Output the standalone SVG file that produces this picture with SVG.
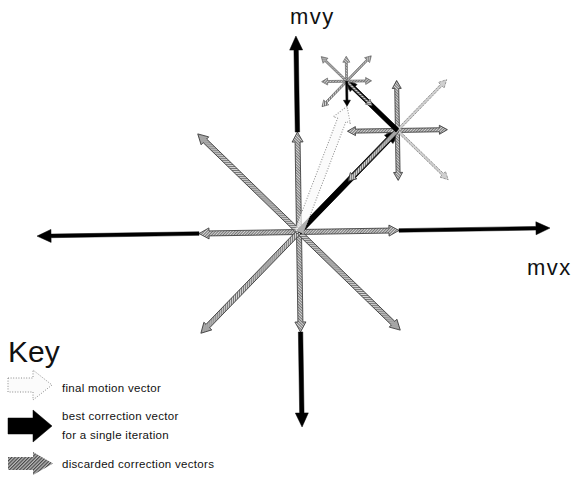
<svg xmlns="http://www.w3.org/2000/svg" xmlns:xlink="http://www.w3.org/1999/xlink" width="578" height="482" viewBox="0 0 578 482">
<style>
.g{fill:url(#hatch);stroke:#333;stroke-width:0.8;stroke-linejoin:miter}
.gs{fill:url(#hatch);stroke:#555;stroke-width:0.6}
.gl{fill:#d0d0d0;stroke:#8a8a8a;stroke-width:0.8;stroke-dasharray:2.5 1}
.b{fill:#000;stroke:#000;stroke-width:0.5}
.f{fill:#fafafa;fill-opacity:0.7;stroke:#8a8a8a;stroke-width:1;stroke-dasharray:1 1.6}
.t{font-family:"Liberation Sans",Arial,sans-serif;fill:#111}
.lab{font-size:22px;letter-spacing:1.5px}
.key{font-size:11.5px;letter-spacing:0.3px}
</style>
<defs>
<pattern id="hatch" width="2" height="2" patternUnits="userSpaceOnUse" patternTransform="rotate(45)">
<rect width="2" height="2" fill="#d6d6d6"/>
<line x1="0.5" y1="0" x2="0.5" y2="2" stroke="#5a5a5a" stroke-width="0.8"/>
</pattern>
<pattern id="hatchD" width="2.4" height="2.4" patternUnits="userSpaceOnUse" patternTransform="rotate(45)">
<rect width="2.4" height="2.4" fill="#bbb"/>
<line x1="0.6" y1="0" x2="0.6" y2="2.4" stroke="#333" stroke-width="1"/>
</pattern>
<polygon id="g1a" class="g" points="0,-2.5 90,-2.5 90,-5.5 100,0 90,5.5 90,2.5 0,2.5"/>
<polygon id="g1d" class="g" points="0,-2.5 131,-2.5 131,-5.5 141,0 131,5.5 131,2.5 0,2.5"/>
<polygon id="g2a" class="g" points="0,-2 42,-2 42,-4.5 50,0 42,4.5 42,2 0,2"/>
<polygon id="g2d" class="g" points="0,-2 63,-2 63,-4.5 70.7,0 63,4.5 63,2 0,2"/>
<polygon id="g2l" class="gl" points="0,-1.2 63,-1.2 63,-4 70.7,0 63,4 63,1.2 0,1.2"/>
<polygon id="g3a" class="gs" points="0,-1 19,-1 19,-3.5 25,0 19,3.5 19,1 0,1"/>
<polygon id="g3d" class="gs" points="0,-1 29.4,-1 29.4,-3.5 35.4,0 29.4,3.5 29.4,1 0,1"/>
</defs>

<g id="diagram" transform="rotate(-0.9 299 232)">
<g id="axes">
<polygon class="b" transform="translate(299 232) rotate(270)" points="100,-2.2 182,-2.2 182,-6.5 196,0 182,6.5 182,2.2 100,2.2"/>
<polygon class="b" transform="translate(299 232) rotate(90)" points="100,-2.2 181,-2.2 181,-6.5 195,0 181,6.5 181,2.2 100,2.2"/>
<polygon class="b" transform="translate(299 232) rotate(180)" points="100,-1.8 248,-1.8 248,-6.5 262,0 248,6.5 248,1.8 100,1.8"/>
<polygon class="b" transform="translate(299 232)" points="100,-1.8 237,-1.8 237,-6.5 251,0 237,6.5 237,1.8 100,1.8"/>
</g>
<g id="search1">
<use xlink:href="#g1a" transform="translate(299 232) rotate(0)"/>
<use xlink:href="#g1a" transform="translate(299 232) rotate(90)"/>
<use xlink:href="#g1a" transform="translate(299 232) rotate(180)"/>
<use xlink:href="#g1a" transform="translate(299 232) rotate(270)"/>
<use xlink:href="#g1d" transform="translate(299 232) rotate(45)"/>
<use xlink:href="#g1d" transform="translate(299 232) rotate(135)"/>
<use xlink:href="#g1d" transform="translate(299 232) rotate(225)"/>
<use xlink:href="#g1d" transform="translate(299 232) rotate(315)"/>
</g>
<g id="best1">
<polygon class="b" transform="translate(299 232) rotate(315)" points="0,-2.8 129,-2.8 129,-6 141.4,0 129,6 129,2.8 0,2.8"/>
</g>
<g id="search2">
<use xlink:href="#g2a" transform="translate(399 132) rotate(0)"/>
<use xlink:href="#g2a" transform="translate(399 132) rotate(90)"/>
<use xlink:href="#g2a" transform="translate(399 132) rotate(180)"/>
<use xlink:href="#g2a" transform="translate(399 132) rotate(270)"/>
<use xlink:href="#g2l" transform="translate(399 132) rotate(45)"/>
<use xlink:href="#g2d" transform="translate(399 132) rotate(135)"/>
<use xlink:href="#g2d" transform="translate(399 132) rotate(225)"/>
<use xlink:href="#g2l" transform="translate(399 132) rotate(315)"/>
</g>
<g id="best2">
<polygon class="b" transform="translate(399 132) rotate(225)" points="0,-2.2 61,-2.2 61,-5 70.7,0 61,5 61,2.2 0,2.2"/>
</g>
<g id="search3">
<use xlink:href="#g3a" transform="translate(349 82) rotate(0)"/>
<use xlink:href="#g3a" transform="translate(349 82) rotate(180)"/>
<use xlink:href="#g3a" transform="translate(349 82) rotate(270)"/>
<use xlink:href="#g3d" transform="translate(349 82) rotate(45)"/>
<use xlink:href="#g3d" transform="translate(349 82) rotate(135)"/>
<use xlink:href="#g3d" transform="translate(349 82) rotate(225)"/>
<use xlink:href="#g3d" transform="translate(349 82) rotate(315)"/>
</g>
<g id="best3">
<polygon class="b" transform="translate(349 82) rotate(90)" points="0,-1 19,-1 19,-3.5 25,0 19,3.5 19,1 0,1"/>
</g>
<g id="final">
<polygon class="f" transform="translate(299 232) rotate(-68.2)" points="0,-4.5 120,-4.5 120,-9 134.6,0 120,9 120,4.5 0,4.5"/>
</g>
</g>

<g id="labels">
<text class="t lab" x="290" y="24">mvy</text>
<text class="t lab" x="527" y="275">mvx</text>
</g>

<g id="key">
<text class="t" x="8" y="362" font-size="30">Key</text>
<polygon class="f" points="8,378 33,378 33,370 52,385 33,400 33,392 8,392"/>
<text class="t key" x="62" y="392">final motion vector</text>
<polygon class="b" points="8,418 33,418 33,410 52,426 33,442 33,434 8,434"/>
<text class="t key" x="62" y="420">best correction vector</text>
<text class="t key" x="62" y="439">for a single iteration</text>
<polygon fill="url(#hatchD)" points="8,457 33,457 33,452 53,463.5 33,475 33,470 8,470"/>
<text class="t key" x="62" y="468">discarded correction vectors</text>
</g>
</svg>
